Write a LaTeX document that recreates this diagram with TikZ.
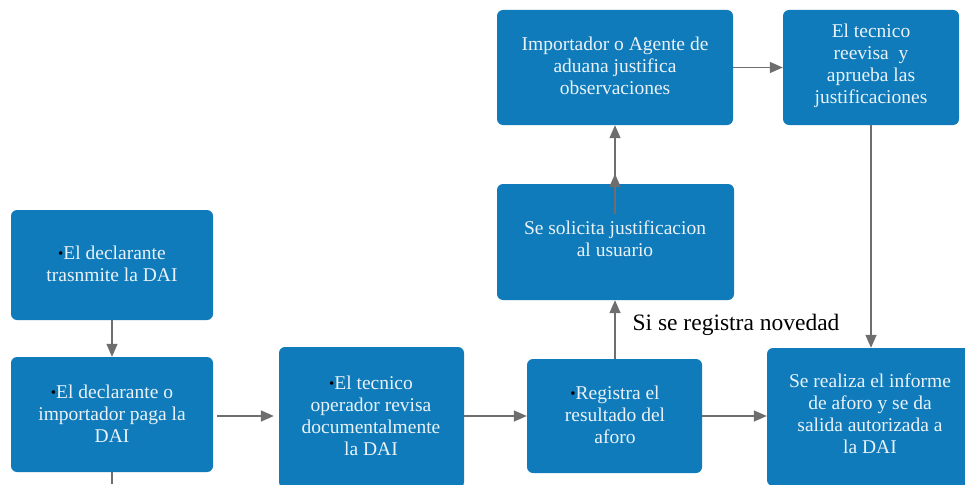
\documentclass[tikz,border=0pt]{standalone}
\usepackage{fontspec}
\setmainfont{Liberation Serif}
\usetikzlibrary{arrows.meta,fit}
\definecolor{boxblue}{HTML}{0F7BBA}
\definecolor{arrgray}{HTML}{6E6E6E}
\definecolor{boxtext}{HTML}{EAF2F8}
\tikzset{
 box/.style={fill=boxblue, rounded corners=6pt, draw=none, text=boxtext, align=center,
   font=\fontsize{19.5}{22}\selectfont, inner sep=0pt},
 conn/.style={draw=arrgray, line width=1.4pt, -{Triangle[length=13pt,width=11pt]}},
 plain/.style={draw=arrgray, line width=1.4pt},
}
\newcommand{\bul}{{\color{black}\fontsize{15}{15}\selectfont\raisebox{1pt}{\textbullet}}}
\begin{document}
\begin{tikzpicture}[x=1pt,y=1pt]
\useasboundingbox (0,0) rectangle (965,-484);
\node[box, fit={(11,-210) (213,-320)}] (A) {};
\node at (112,-264) [box, fill=none] {\bul El declarante\\trasnmite la DAI};
\node[box, fit={(11,-357) (213,-472)}] (B) {};
\node at (112,-414) [box, fill=none] {\bul El declarante o\\importador paga la\\DAI};
\node[box, fit={(279,-347) (464,-488)}] (C) {};
\node at (371,-416) [box, fill=none] {\bul El tecnico\\operador revisa\\documentalmente\\la DAI};
\node[box, fit={(527,-359) (702,-473)}] (D) {};
\node at (615,-415) [box, fill=none] {\bul Registra el\\resultado del\\aforo};
\node[box, fit={(767,-348) (972,-486)}] (E) {};
\node at (870,-414) [box, fill=none] {Se realiza el informe\\de aforo y se da\\salida autorizada a\\la DAI};
\node[box, fit={(497,-184) (734,-300)}] (F) {};
\node at (615,-239) [box, fill=none] {Se solicita justificacion\\al usuario};
\node[box, fit={(497,-10) (733,-125)}] (G) {};
\node at (615,-66) [box, fill=none] {Importador o Agente de\\aduana justifica\\observaciones};
\node[box, fit={(783,-10) (959,-125)}] (H) {};
\node at (871,-66) [box, fill=none] {El tecnico\\reevisa\ \ y\\aprueba las\\justificaciones};
\node[font=\fontsize{23.5}{26}\selectfont, text=black] (L) at (736,-325) {Si se registra novedad};
\coordinate (Bs) at (112,-484);
\coordinate (row) at (0,-416);
\draw[conn] (A.south) -- (B.north);
\draw[plain] (B.south) -- (Bs);
\draw[conn] ([xshift=4pt]B.east |- row) -- ([xshift=-5pt]C.west |- row);
\draw[conn] (C.east |- row) -- (D.west |- row);
\draw[conn] (D.east |- row) -- (E.west |- row);
\draw[conn] (D.north -| 615,0) -- (F.south -| 615,0);
\draw[conn] (F.north -| 615,0) -- (G.south -| 615,0);
\draw[conn] ([yshift=-30pt]F.north -| 615,0) -- ([yshift=10pt]F.north -| 615,0);
\draw[conn] (G.east) -- (H.west);
\draw[conn] (H.south) -- (E.north -| H.south);
\end{tikzpicture}
\end{document}
